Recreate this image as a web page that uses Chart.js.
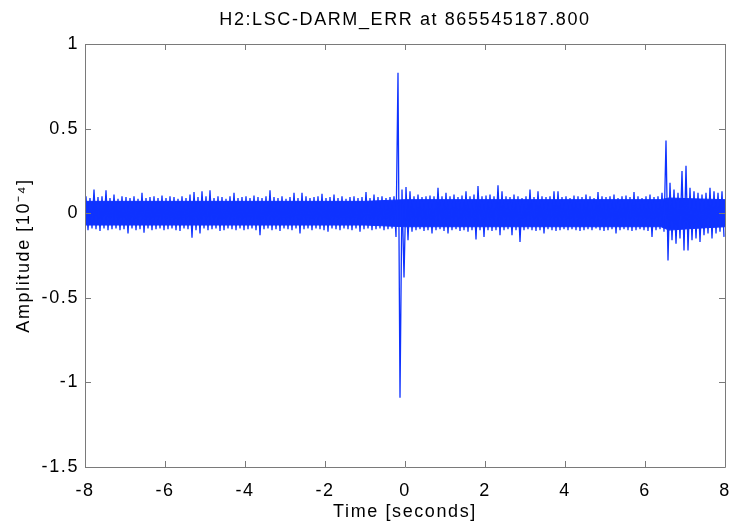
<!DOCTYPE html>
<html><head><meta charset="utf-8">
<script src="https://cdn.jsdelivr.net/npm/chart.js@4/dist/chart.umd.min.js"></script>
<style>html,body{margin:0;padding:0;background:#fff;} #wrap{width:730px;height:524px;position:relative;}</style>
</head><body><div id="wrap"><canvas id="c"></canvas></div>
<script>
const chartTitle = 'H2:LSC-DARM_ERR at 865545187.800';
const xAxisTitle = 'Time [seconds]';
const yAxisTitle = 'Amplitude [10\u207B\u2074]';
const xTickValues = [-8, -6, -4, -2, 0, 2, 4, 6, 8];
const yTickValues = [-1.5, -1, -0.5, 0, 0.5, 1];
// envelope of the signal per 0.1 s bin, starting at t = -8 s
const binStart = -8;
const binWidth = 0.1;
const binMax = [
  0.10, 0.09, 0.14, 0.095, 0.10, 0.135, 0.09, 0.11, 0.085, 0.10,
  0.095, 0.09, 0.10, 0.085, 0.12, 0.09, 0.095, 0.10, 0.09, 0.105,
  0.09, 0.10, 0.095, 0.085, 0.10, 0.09, 0.11, 0.125, 0.095, 0.13,
  0.10, 0.135, 0.09, 0.10, 0.095, 0.085, 0.10, 0.12, 0.09, 0.095,
  0.10, 0.09, 0.105, 0.095, 0.09, 0.10, 0.135, 0.095, 0.09, 0.10,
  0.085, 0.095, 0.12, 0.09, 0.12, 0.10, 0.09, 0.095, 0.10, 0.115,
  0.09, 0.095, 0.11, 0.09, 0.10, 0.085, 0.095, 0.10, 0.09, 0.095,
  0.125, 0.09, 0.11, 0.095, 0.10, 0.09, 0.095, 0.10, 0.83, 0.14,
  0.155, 0.13, 0.10, 0.11, 0.095, 0.10, 0.105, 0.10, 0.15, 0.10,
  0.12, 0.10, 0.11, 0.095, 0.105, 0.13, 0.10, 0.11, 0.16, 0.10,
  0.105, 0.11, 0.10, 0.165, 0.13, 0.10, 0.095, 0.11, 0.10, 0.09,
  0.10, 0.14, 0.095, 0.13, 0.10, 0.095, 0.10, 0.13, 0.13, 0.095,
  0.10, 0.09, 0.105, 0.10, 0.095, 0.11, 0.10, 0.09, 0.125, 0.10,
  0.095, 0.10, 0.11, 0.09, 0.10, 0.105, 0.095, 0.125, 0.10, 0.09,
  0.10, 0.11, 0.095, 0.10, 0.12, 0.43, 0.18, 0.14, 0.12, 0.25,
  0.28, 0.15, 0.13, 0.12, 0.11, 0.12, 0.15, 0.13, 0.12, 0.13
];
const binMin = [
  -0.10, -0.09, -0.095, -0.105, -0.09, -0.10, -0.095, -0.09, -0.10, -0.095,
  -0.12, -0.09, -0.10, -0.095, -0.115, -0.09, -0.10, -0.095, -0.09, -0.10,
  -0.095, -0.09, -0.10, -0.105, -0.09, -0.095, -0.145, -0.10, -0.12, -0.09,
  -0.10, -0.095, -0.09, -0.105, -0.10, -0.09, -0.095, -0.10, -0.09, -0.10,
  -0.095, -0.09, -0.10, -0.13, -0.095, -0.09, -0.10, -0.095, -0.105, -0.09,
  -0.095, -0.10, -0.09, -0.12, -0.095, -0.09, -0.10, -0.09, -0.095, -0.10,
  -0.11, -0.09, -0.095, -0.10, -0.09, -0.095, -0.10, -0.09, -0.11, -0.095,
  -0.09, -0.10, -0.095, -0.09, -0.10, -0.095, -0.09, -0.14, -1.09, -0.38,
  -0.16, -0.11, -0.10, -0.095, -0.105, -0.10, -0.12, -0.10, -0.095, -0.105,
  -0.12, -0.10, -0.095, -0.105, -0.10, -0.11, -0.10, -0.155, -0.10, -0.14,
  -0.10, -0.105, -0.10, -0.13, -0.10, -0.095, -0.13, -0.10, -0.17, -0.10,
  -0.095, -0.10, -0.105, -0.10, -0.12, -0.095, -0.10, -0.105, -0.10, -0.095,
  -0.10, -0.095, -0.10, -0.105, -0.10, -0.095, -0.10, -0.09, -0.10, -0.105,
  -0.10, -0.095, -0.12, -0.10, -0.095, -0.10, -0.105, -0.10, -0.095, -0.10,
  -0.105, -0.14, -0.10, -0.095, -0.11, -0.28, -0.16, -0.18, -0.15, -0.22,
  -0.22, -0.16, -0.15, -0.17, -0.13, -0.12, -0.15, -0.12, -0.11, -0.14
];
// dense solid core of the trace
const coreTimes = [-8, -4, -1, 0, 2, 4, 6.4, 6.6, 7.2, 8];
const coreUpper = [0.07, 0.07, 0.07, 0.08, 0.08, 0.08, 0.08, 0.09, 0.085, 0.08];
const coreLower = [-0.07, -0.07, -0.07, -0.08, -0.08, -0.08, -0.08, -0.10, -0.09, -0.08];

const points = [];
for (let i = 0; i < binMax.length; i++) {
  const t0 = binStart + binWidth * i;
  points.push({x: t0 + binWidth * 0.25, y: binMax[i]});
  points.push({x: t0 + binWidth * 0.75, y: binMin[i]});
}
const coreTop = coreTimes.map((t, i) => ({x: t, y: coreUpper[i]}));
const coreBottom = coreTimes.map((t, i) => ({x: t, y: coreLower[i]}));

const FONT = "'Liberation Sans', Arial, Helvetica, sans-serif";
Chart.defaults.font.family = FONT;
Chart.defaults.font.size = 18;
Chart.defaults.color = '#000';

const LETTER_SPACING = '1.6px';
const spacingPlugin = {
  id: 'spacing',
  beforeUpdate(chart) { if ('letterSpacing' in chart.ctx) chart.ctx.letterSpacing = LETTER_SPACING; },
  beforeDraw(chart) { if ('letterSpacing' in chart.ctx) chart.ctx.letterSpacing = LETTER_SPACING; }
};

const frameColor = '#7a7a7a';
const tickLen = 6;
const framePlugin = {
  id: 'frame',
  afterDraw(chart) {
    const {ctx, chartArea: a, scales} = chart;
    ctx.save();
    ctx.strokeStyle = frameColor;
    ctx.lineWidth = 1;
    ctx.beginPath();
    ctx.rect(Math.round(a.left) + 0.5, Math.round(a.top) + 0.5, Math.round(a.right - a.left), Math.round(a.bottom - a.top));
    ctx.stroke();
    ctx.beginPath();
    xTickValues.forEach(v => {
      const px = Math.round(scales.x.getPixelForValue(v)) + 0.5;
      ctx.moveTo(px, a.bottom); ctx.lineTo(px, a.bottom - tickLen);
      ctx.moveTo(px, a.top); ctx.lineTo(px, a.top + tickLen);
    });
    yTickValues.forEach(v => {
      const py = Math.round(scales.y.getPixelForValue(v)) + 0.5;
      ctx.moveTo(a.left, py); ctx.lineTo(a.left + tickLen, py);
      ctx.moveTo(a.right, py); ctx.lineTo(a.right - tickLen, py);
    });
    ctx.stroke();
    ctx.restore();
  }
};

const blue = '#0f33ff';
new Chart(document.getElementById('c'), {
  type: 'line',
  data: {
    datasets: [
      {data: points, borderColor: blue, borderWidth: 1.3, pointRadius: 0, tension: 0, fill: false},
      {data: coreTop, borderColor: blue, borderWidth: 1, pointRadius: 0, tension: 0, fill: false},
      {data: coreBottom, borderColor: blue, borderWidth: 1, pointRadius: 0, tension: 0, fill: '-1', backgroundColor: blue}
    ]
  },
  options: {
    responsive: true,
    maintainAspectRatio: false,
    animation: false,
    events: [],
    layout: {padding: {left: 0, right: 5, top: 0, bottom: 0}},
    plugins: {legend: {display: false}, title: {display: false}, tooltip: {enabled: false}},
    scales: {
      x: {
        type: 'linear', position: 'bottom', min: -8, max: 8,
        afterBuildTicks: s => { s.ticks = xTickValues.map(v => ({value: v})); },
        afterFit: s => { s.height = 57; s.paddingLeft = 0; s.paddingRight = 0; },
        ticks: {padding: 13, maxRotation: 0, autoSkip: false, callback: v => String(v)},
        grid: {display: false, drawTicks: false},
        border: {display: false},
        title: {display: true, text: xAxisTitle, padding: {top: 0, bottom: 1}}
      },
      xTop: {
        type: 'linear', position: 'top', min: -8, max: 8,
        afterFit: s => { s.height = 44; s.paddingLeft = 0; s.paddingRight = 0; },
        ticks: {display: false},
        grid: {display: false, drawTicks: false},
        border: {display: false},
        title: {display: true, text: chartTitle, padding: {top: 9, bottom: 0}}
      },
      y: {
        type: 'linear', position: 'left', min: -1.5, max: 1,
        afterBuildTicks: s => { s.ticks = yTickValues.map(v => ({value: v})); },
        afterFit: s => { s.width = 85; s.paddingTop = 0; s.paddingBottom = 0; },
        ticks: {padding: 6, autoSkip: false, callback: v => String(v)},
        grid: {display: false, drawTicks: false},
        border: {display: false},
        title: {display: true, text: yAxisTitle, padding: {top: 13, bottom: 0}}
      }
    }
  },
  plugins: [spacingPlugin, framePlugin]
});
</script>
</body></html>
